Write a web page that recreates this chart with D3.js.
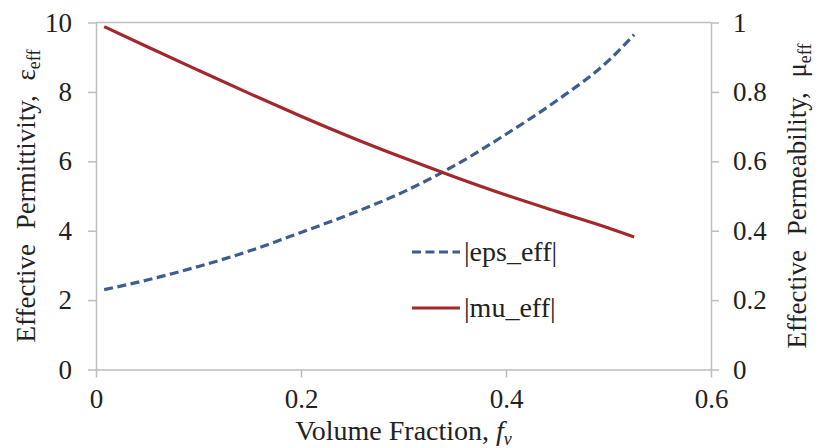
<!DOCTYPE html>
<html>
<head>
<meta charset="utf-8">
<script src="https://cdn.jsdelivr.net/npm/d3@7"></script>
<style>
  body { margin: 0; background: #fff; }
</style>
</head>
<body>
<svg id="chart" width="819" height="448"></svg>
<script>
// volume fraction (x)
const fracs = [0.008, 0.05, 0.1, 0.15, 0.2, 0.25, 0.3, 0.35, 0.4, 0.45, 0.5, 0.525];
// |eps_eff| (left axis)
const epsVals = [2.30, 2.58, 2.97, 3.42, 3.95, 4.50, 5.12, 5.88, 6.78, 7.76, 8.90, 9.65];
// |mu_eff| (right axis)
const muVals = [0.988, 0.93, 0.862, 0.795, 0.73, 0.668, 0.61, 0.555, 0.503, 0.455, 0.408, 0.382];

const xTicks = [0, 0.2, 0.4, 0.6];
const epsTicks = [0, 2, 4, 6, 8, 10];
const muTicks = [0, 0.2, 0.4, 0.6, 0.8, 1];

const legendNames = ["|eps_eff|", "|mu_eff|"];

const blue = "#3c5d8f";
const red = "#a3282c";
const axisGrey = "#bdbdbd";
const serif = "'Liberation Serif', 'Times New Roman', Times, 'DejaVu Serif', serif";

const svg = d3.select("#chart");

const plotLeft = 96, plotRight = 711, plotTop = 22.5, plotBottom = 369.5;

let scaleX = d3.scaleLinear().domain([0, 0.6]).range([plotLeft, plotRight]);
let scaleEps = d3.scaleLinear().domain([0, 10]).range([plotBottom, plotTop]);
let scaleMu = d3.scaleLinear().domain([0, 1]).range([plotBottom, plotTop]);

// top border of plot area
svg.append("line")
  .attr("x1", plotLeft).attr("x2", plotRight)
  .attr("y1", plotTop).attr("y2", plotTop)
  .attr("stroke", axisGrey).attr("stroke-width", 1.5);

function styleAxis(g) {
  g.attr("font-family", null).attr("font-size", null);
  g.selectAll("path, line").attr("stroke", axisGrey).attr("stroke-width", 1.5);
  g.selectAll("text")
    .style("font-family", serif)
    .style("font-size", "27px")
    .attr("fill", "#222");
}

// x axis
svg.append("g")
  .attr("transform", `translate(0, ${plotBottom})`)
  .call(d3.axisBottom(scaleX).tickValues(xTicks).tickFormat(d3.format("")).tickSize(8).tickSizeOuter(0).tickPadding(11))
  .call(styleAxis)
  .call(g => g.selectAll("text").attr("dy", "0.71em"));

// left axis
svg.append("g")
  .attr("transform", `translate(${plotLeft}, 0)`)
  .call(d3.axisLeft(scaleEps).tickValues(epsTicks).tickSize(8).tickSizeOuter(0).tickPadding(16))
  .call(styleAxis);

// right axis
svg.append("g")
  .attr("transform", `translate(${plotRight}, 0)`)
  .call(d3.axisRight(scaleMu).tickValues(muTicks).tickFormat(d3.format("")).tickSize(8).tickSizeOuter(0).tickPadding(14))
  .call(styleAxis);

// curves
const epsData = fracs.map((f, i) => ({x: f, y: epsVals[i]}));
const muData = fracs.map((f, i) => ({x: f, y: muVals[i]}));

svg.append("path")
  .datum(epsData)
  .attr("fill", "none")
  .attr("stroke", blue)
  .attr("stroke-width", 3.2)
  .attr("stroke-dasharray", "9,4.5")
  .attr("d", d3.line().x(d => scaleX(d.x)).y(d => scaleEps(d.y)).curve(d3.curveMonotoneX));

svg.append("path")
  .datum(muData)
  .attr("fill", "none")
  .attr("stroke", red)
  .attr("stroke-width", 3.2)
  .attr("d", d3.line().x(d => scaleX(d.x)).y(d => scaleMu(d.y)).curve(d3.curveMonotoneX));

// legend
const legend = svg.append("g");
const legendRows = [
  {name: legendNames[0], color: blue, dash: "9,4.5", y: 252},
  {name: legendNames[1], color: red, dash: null, y: 308}
];
legendRows.forEach(r => {
  legend.append("line")
    .attr("x1", 412).attr("x2", 460)
    .attr("y1", r.y).attr("y2", r.y)
    .attr("stroke", r.color).attr("stroke-width", 3.2)
    .attr("stroke-dasharray", r.dash);
  legend.append("text")
    .attr("x", 464).attr("y", r.y + 9)
    .style("font-family", serif)
    .style("font-size", "28px")
    .attr("fill", "#222")
    .text(r.name);
});

// axis titles
const xTitle = svg.append("text")
  .attr("x", (plotLeft + plotRight) / 2)
  .attr("y", 440)
  .attr("text-anchor", "middle")
  .style("font-family", serif)
  .style("font-size", "28px")
  .attr("fill", "#222");
xTitle.append("tspan").text("Volume Fraction, ");
xTitle.append("tspan").attr("font-style", "italic").text("f");
xTitle.append("tspan").attr("font-style", "italic").attr("font-size", "18px").attr("dy", 5).text("v");

const yTitleL = svg.append("text")
  .attr("transform", `translate(35, ${(plotTop + plotBottom) / 2}) rotate(-90)`)
  .attr("text-anchor", "middle")
  .style("font-family", serif)
  .style("font-size", "27px")
  .style("word-spacing", "8px")
  .attr("fill", "#222");
yTitleL.append("tspan").text("Effective Permittivity, ε");
yTitleL.append("tspan").attr("font-size", "18px").attr("dy", 5).text("eff");

const yTitleR = svg.append("text")
  .attr("transform", `translate(806, ${(plotTop + plotBottom) / 2}) rotate(-90)`)
  .attr("text-anchor", "middle")
  .style("font-family", serif)
  .style("font-size", "27px")
  .style("word-spacing", "8px")
  .attr("fill", "#222");
yTitleR.append("tspan").text("Effective Permeability, μ");
yTitleR.append("tspan").attr("font-size", "18px").attr("dy", 5).text("eff");
</script>
</body>
</html>
